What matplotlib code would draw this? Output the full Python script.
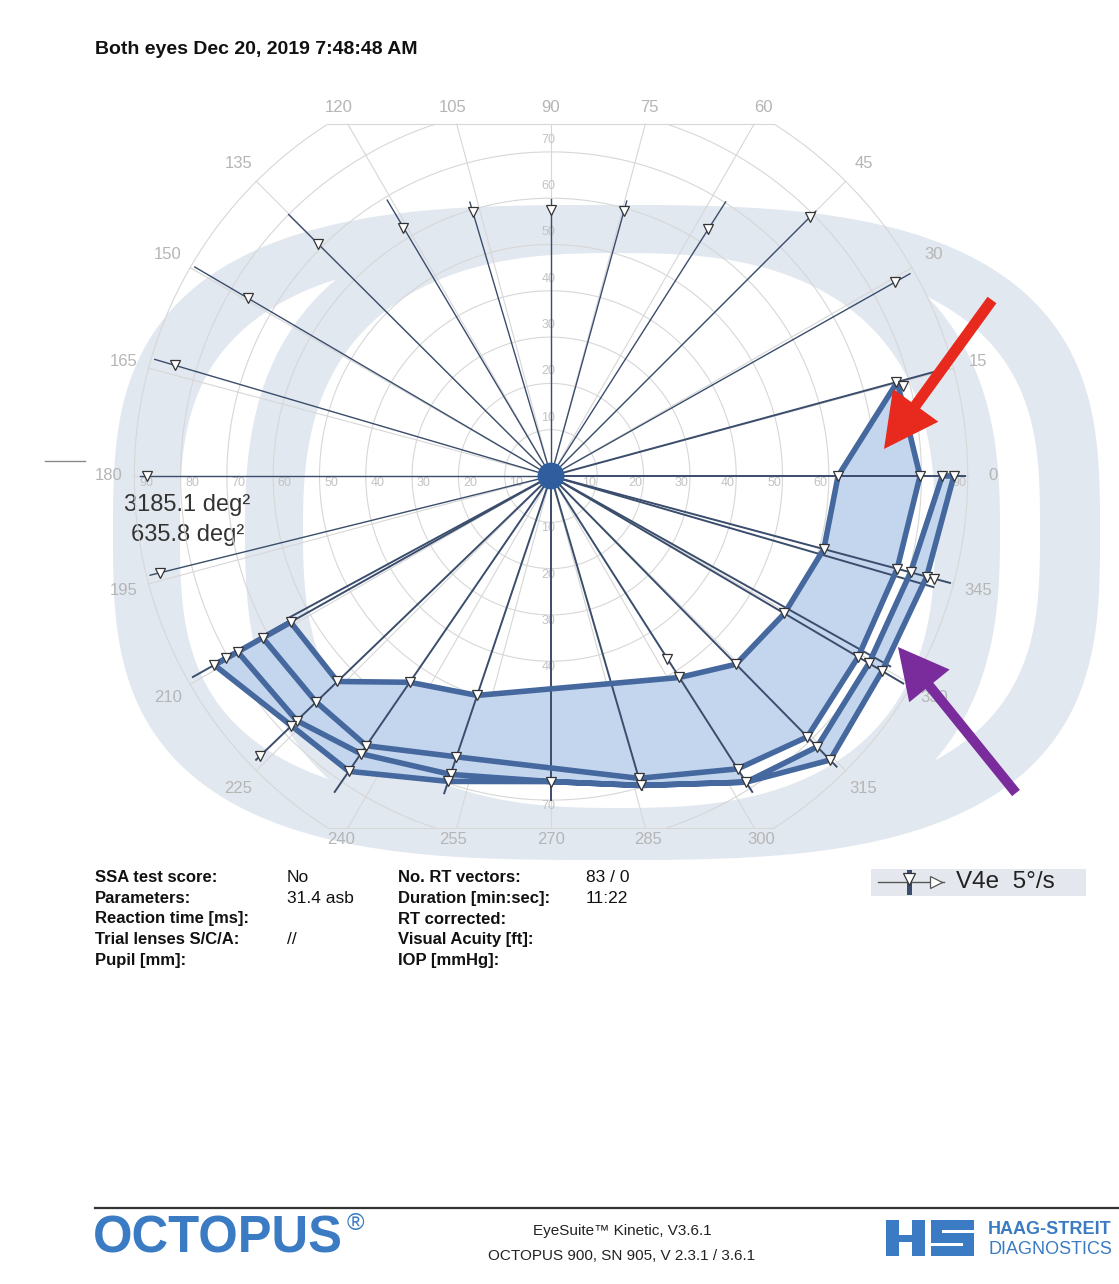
import numpy as np
import matplotlib
matplotlib.use("Agg")
import matplotlib.pyplot as plt
from matplotlib.patches import Polygon, Rectangle, FancyArrow, Circle, PathPatch
from matplotlib.path import Path

plt.rcParams['font.family'] = ['Liberation Sans', 'DejaVu Sans']

# ------------------------------------------------------------------ data
title_text = "Both eyes Dec 20, 2019 7:48:48 AM"
area_labels = ["3185.1 deg\u00b2", "635.8 deg\u00b2"]

ring_degrees = [10, 20, 30, 40, 50, 60, 70, 80, 90]
meridian_labels = list(range(0, 360, 15))

# kinetic vectors: meridian (deg) and outer extent (deg eccentricity)
vector_angle = [0, 15.2, 29.4, 45, 57.5, 74.6, 90, 106.5, 120.7, 135.1, 149.6, 163.6,
                180, 193.9, 209.3, 208.4, 223.9, 235.6, 251.4, 270, 286.2, 302.5,
                314.5, 329.5, 330.7, 345, 343.8]
vector_extent = [89.4, 88.9, 89.0, 80.9, 70.2, 61.6, 59.8, 61.7, 69.3, 80.0, 89.2, 89.2,
                 88.8, 89.2, 88.7, 64.5, 88.4, 82.7, 72.3, 70.0, 70.6, 80.9,
                 88.0, 88.3, 84.0, 89.2, 86.0]

# responses (triangles): meridian and eccentricity
seen_angle = [0, 0, 0, 0, 15.2, 14.4, 29.4, 45, 57.5, 74.6, 90, 106.5, 120.7, 135.1,
              149.6, 163.6, 180, 193.9,
              209.3, 209.3, 209.3, 209.3, 209.3,
              223.9, 223.9, 223.9, 223.9, 223.9,
              235.6, 235.6, 235.6, 235.6,
              251.4, 251.4, 251.4, 251.4,
              270, 286.2, 286.2,
              302.5, 302.5, 302.5, 302.5,
              314.5, 314.5, 314.5, 314.5,
              329.5, 329.5, 329.5, 329.5,
              345, 345, 345, 345, 345]
seen_ecc = [62, 79.7, 84.5, 87, 77.2, 78.4, 85.2, 79, 63.2, 59.4, 57.5, 59.4, 62.4, 70.9,
            75.9, 84.7, 87.3, 87,
            64.5, 71.4, 77.6, 80.5, 83.4,
            64, 70.4, 76.2, 77.8, 87.2,
            54, 70.6, 72.7, 77.3,
            50, 64, 68, 69.6,
            66, 68, 69.6,
            46.8, 51.6, 75, 78.4,
            57, 79, 82, 86,
            58.5, 77, 79.7, 83,
            61, 77.4, 80.4, 84, 85.6]

# isopters (meridian, eccentricity)
iso_inner_angle = [15.2, 0, 345, 329.5, 314.5, 302.5, 251.4, 235.6, 223.9, 209.3]
iso_inner_ecc = [77.5, 62, 61, 58.5, 57, 51.6, 50, 54, 64, 64.5]

iso_o1_angle = [15.2, 0, 345, 329.5, 314.5, 302.5, 286.2, 251.4, 235.6, 223.9, 209.3]
iso_o1_ecc = [77.5, 79.7, 77.4, 77, 79, 75, 68, 64, 70.6, 70.4, 71.4]

iso_o2_angle = [0, 345, 329.5, 314.5, 302.5, 286.2, 270, 251.4, 235.6, 223.9, 209.3]
iso_o2_ecc = [84.5, 80.4, 79.7, 82, 78.4, 69.6, 66, 68, 72.7, 76.2, 77.6]

iso_o3_angle = [0, 345, 329.5, 314.5, 302.5, 286.2, 270, 251.4, 235.6, 223.9, 209.3]
iso_o3_ecc = [87, 84, 83, 86, 78.4, 69.6, 66, 69.6, 77.3, 77.8, 83.4]

table_left_labels = ["SSA test score:", "Parameters:", "Reaction time [ms]:",
                     "Trial lenses S/C/A:", "Pupil [mm]:"]
table_left_values = ["No", "31.4 asb", "", "//", ""]
table_right_labels = ["No. RT vectors:", "Duration [min:sec]:", "RT corrected:",
                      "Visual Acuity [ft]:", "IOP [mmHg]:"]
table_right_values = ["83 / 0", "11:22", "", "", ""]

legend_text = "V4e  5\u00b0/s"
footer_center = ["EyeSuite\u2122 Kinetic, V3.6.1", "OCTOPUS 900, SN 905, V 2.3.1 / 3.6.1"]

# ------------------------------------------------------------------ layout
W, H = 1119, 1284
CX, CY, S = 551, 476, 4.63        # fixation point on the page (px) and px per degree
YCLIP = 76.0                       # vertical limit of the perimeter grid

ISO_BLUE = '#45689e'
FILL_BLUE = '#c4d5ee'
GRID = '#d7d7d7'
LABEL_GRAY = '#b5b5b5'
WATERMARK = '#e2e8f0'

fig = plt.figure(figsize=(W / 100, H / 100), dpi=100)
fig.patch.set_facecolor('white')

# page layer (pixel coordinates, y down)
bg = fig.add_axes([0, 0, 1, 1], zorder=0)
bg.set_xlim(0, W)
bg.set_ylim(H, 0)
bg.axis('off')


def superellipse(x0, x1, y0, y1, n, num=400, reverse=False):
    t = np.linspace(0, 2 * np.pi, num)
    if reverse:
        t = t[::-1]
    c, s = np.cos(t), np.sin(t)
    cx, cy, a, b = (x0 + x1) / 2, (y0 + y1) / 2, (x1 - x0) / 2, (y1 - y0) / 2
    return np.column_stack([cx + a * np.sign(c) * np.abs(c) ** (2 / n),
                            cy + b * np.sign(s) * np.abs(s) ** (2 / n)])


def ring_patch(outer, inner, n_out, n_in):
    po = superellipse(*outer, n_out)
    pi = superellipse(*inner, n_in, reverse=True)
    verts = np.vstack([po, pi])
    codes = np.full(len(verts), Path.LINETO)
    codes[0] = Path.MOVETO
    codes[len(po)] = Path.MOVETO
    return PathPatch(Path(verts, codes), facecolor=WATERMARK, edgecolor='none', zorder=0)


# faint watermark rings behind the perimetry grid
bg.add_patch(ring_patch((113, 1100, 205, 860), (180, 1040, 253, 808), 3.0, 3.0))
bg.add_patch(ring_patch((245, 1000, 205, 860), (303, 935, 253, 808), 2.6, 2.6))

# chart layer (degrees of visual field)
XL, XR, YB, YT = -105, 120, -85, 85
left_px = CX + XL * S
top_px = CY - YT * S
ax = fig.add_axes([left_px / W, 1 - (top_px + (YT - YB) * S) / H,
                   (XR - XL) * S / W, (YT - YB) * S / H], zorder=1)
ax.set_xlim(XL, XR)
ax.set_ylim(YB, YT)
ax.axis('off')
ax.patch.set_alpha(0)


def to_xy(angles, ecc):
    th = np.radians(np.asarray(angles, float))
    e = np.asarray(ecc, float)
    return e * np.cos(th), e * np.sin(th)


# grid rings
t = np.linspace(0, 2 * np.pi, 1441)
for rr in ring_degrees:
    gx, gy = rr * np.cos(t), rr * np.sin(t)
    gy = np.where(np.abs(gy) > YCLIP + 1e-9, np.nan, gy)
    ax.plot(gx, gy, color=GRID, lw=0.8, zorder=1)
# grid meridians
for a in meridian_labels:
    sn = abs(np.sin(np.radians(a)))
    rmax = 90 if sn < 1e-9 else min(90, YCLIP / sn)
    mx, my = to_xy([0, a], [0, rmax])
    ax.plot(mx, my, color=GRID, lw=0.8, zorder=1)
half = np.sqrt(90 ** 2 - YCLIP ** 2)
for yy in (YCLIP, -YCLIP):
    ax.plot([-half, half], [yy, yy], color=GRID, lw=0.8, zorder=1)

# eccentricity labels
RING_LBL = dict(ha='center', va='center', fontsize=9, color='#c2c2c2', zorder=1)
for rr in ring_degrees:
    ax.text(rr - 1.8, -1.6, str(rr), **RING_LBL)
    ax.text(-(rr - 2.5), -1.6, str(rr), **RING_LBL)
    if rr <= 70:
        ax.text(-0.6, rr + 2.6, str(rr), **RING_LBL)
        ax.text(-0.6, -(rr + 1.3), str(rr), **RING_LBL)

# meridian labels
for a in meridian_labels:
    lx, ly = to_xy([a], [95.5])
    lx, ly = float(lx[0]), float(ly[0])
    if ly > 79.5:
        lx, ly = lx * 79.5 / ly, 79.5
    elif ly < -78.6:
        lx, ly = lx * -78.6 / ly, -78.6
    ax.text(lx, ly, str(a), ha='center', va='center', fontsize=12, color=LABEL_GRAY, zorder=1)

# filled scotoma areas
ix, iy = to_xy(iso_inner_angle, iso_inner_ecc)
o1x, o1y = to_xy(iso_o1_angle, iso_o1_ecc)
o2x, o2y = to_xy(iso_o2_angle, iso_o2_ecc)
o3x, o3y = to_xy(iso_o3_angle, iso_o3_ecc)

loop1 = np.vstack([np.column_stack([ix, iy]), np.column_stack([o1x, o1y])[::-1]])
loop2 = np.vstack([np.column_stack([o2x, o2y]), np.column_stack([o3x, o3y])[::-1]])
k1 = iso_o1_angle.index(302.5)
k2 = iso_o2_angle.index(302.5)
bridge = np.vstack([np.column_stack([o1x[k1:], o1y[k1:]]),
                    np.column_stack([o2x[k2:], o2y[k2:]])[::-1]])
for poly in (loop1, loop2, bridge):
    ax.add_patch(Polygon(poly, closed=True, facecolor=FILL_BLUE, edgecolor='none', zorder=2))

# vectors
for a, e in zip(vector_angle, vector_extent):
    vx, vy = to_xy([0, a], [0, e])
    lw = 1.0 if 20 < a < 200 else 1.4
    ax.plot(vx, vy, color='#3a4d6c', lw=lw, zorder=3)

# isopter outlines
for poly in (loop1, loop2):
    ax.add_patch(Polygon(poly, closed=True, facecolor='none', edgecolor=ISO_BLUE,
                         lw=4.0, joinstyle='round', zorder=4))
ex, ey = to_xy([iso_inner_angle[-1]] * 2, [iso_inner_ecc[-1], iso_o3_ecc[-1]])
ax.plot(ex, ey, color=ISO_BLUE, lw=4.0, solid_capstyle='round', zorder=4)

# responses
sx, sy = to_xy(seen_angle, seen_ecc)
ax.plot(sx, sy, linestyle='none', marker='v', markersize=7.5, markerfacecolor='white',
        markeredgecolor='#333333', markeredgewidth=0.9, zorder=5)

# fixation point
ax.add_patch(Circle((0, 0), 2.9, facecolor='#2f5d9e', edgecolor='none', zorder=6))

# ------------------------------------------------------------------ page texts
bg.text(95, 50, title_text, fontsize=14, fontweight='bold', ha='left', va='center', color='#111111')
bg.text(250, 505, area_labels[0], fontsize=17, ha='right', va='center', color='#333333', zorder=2)
bg.text(244, 535, area_labels[1], fontsize=17, ha='right', va='center', color='#333333', zorder=2)
bg.plot([45, 85], [461, 461], color='#8a8a8a', lw=1.0)

rows_y = [878, 898.5, 919, 939.5, 960]
for yy, l1, v1, l2, v2 in zip(rows_y, table_left_labels, table_left_values,
                              table_right_labels, table_right_values):
    bg.text(95, yy, l1, fontsize=12, fontweight='bold', ha='left', va='center', color='#111111')
    bg.text(287, yy, v1, fontsize=12.5, ha='left', va='center', color='#111111')
    bg.text(398, yy, l2, fontsize=12, fontweight='bold', ha='left', va='center', color='#111111')
    bg.text(586, yy, v2, fontsize=12.5, ha='left', va='center', color='#111111')

# stimulus legend
bg.add_patch(Rectangle((871, 869), 215, 27, facecolor='#e4e8ee', edgecolor='none'))
bg.plot([878, 944], [882, 882], color='#555555', lw=1.0)
bg.add_patch(Rectangle((906.5, 870), 5, 25, facecolor='#3a4d6c', edgecolor='none'))
bg.plot([909], [879], marker='v', markersize=8, markerfacecolor='white',
        markeredgecolor='#333333', markeredgewidth=0.9)
bg.plot([936], [882], marker='>', markersize=8, markerfacecolor='white',
        markeredgecolor='#555555', markeredgewidth=0.9)
bg.text(956, 882, legend_text, fontsize=17.5, ha='left', va='center', color='#222222')

# footer
bg.plot([95, 1119], [1208, 1208], color='#333333', lw=1.6)
bg.text(93, 1239, "OCTOPUS", fontsize=36.5, fontweight='bold', ha='left', va='center', color='#3a7bc3')
bg.text(347, 1224, "\u00ae", fontsize=17, ha='left', va='center', color='#3a7bc3')
bg.text(622, 1231, footer_center[0], fontsize=11, ha='center', va='center', color='#222222')
bg.text(622, 1256, footer_center[1], fontsize=11, ha='center', va='center', color='#222222')
LOGO = '#3a7bc3'
for (x0, y0, w, h) in [(886, 1220, 13, 36), (912, 1220, 13, 36), (886, 1235, 39, 7),
                       (931, 1220, 43, 10), (931, 1233, 43, 10), (931, 1246, 43, 10),
                       (931, 1220, 11, 20), (963, 1233, 11, 20)]:
    bg.add_patch(Rectangle((x0, y0), w, h, facecolor=LOGO, edgecolor='none'))
bg.text(988, 1229, "HAAG-STREIT", fontsize=13, fontweight='bold', ha='left', va='center', color=LOGO)
bg.text(988, 1249, "DIAGNOSTICS", fontsize=13, ha='left', va='center', color=LOGO)

# ------------------------------------------------------------------ annotation arrows
fg = fig.add_axes([0, 0, 1, 1], zorder=3)
fg.set_xlim(0, W)
fg.set_ylim(H, 0)
fg.axis('off')
fg.patch.set_alpha(0)
fg.add_patch(FancyArrow(992, 300, 884 - 992, 449 - 300, width=11, head_width=56,
                        head_length=54, length_includes_head=True, color='#e8291d', lw=0))
fg.add_patch(FancyArrow(1016, 793, 898 - 1016, 647 - 793, width=10, head_width=52,
                        head_length=50, length_includes_head=True, color='#7a2b9c', lw=0))

fig.savefig('out.png', dpi=100, facecolor='white')
